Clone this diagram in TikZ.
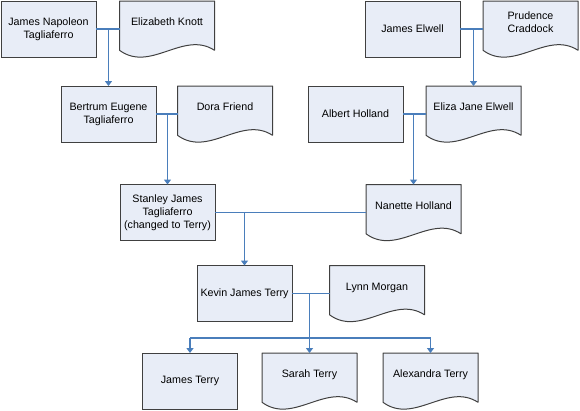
\documentclass[tikz,border=0pt]{standalone}
\usepackage{fontspec}
\setmainfont{Liberation Sans}
\usetikzlibrary{arrows.meta}
\usetikzlibrary{backgrounds}
\definecolor{boxfill}{RGB}{232,237,247}
\definecolor{boxline}{RGB}{64,64,64}
\definecolor{linkblue}{RGB}{74,126,187}
\tikzstyle{person} = [draw=boxline, fill=boxfill, line width=1pt, rectangle, minimum width=95pt, minimum height=56pt, inner sep=2pt, outer sep=0pt, align=center]
\tikzstyle{doc} = [rectangle, minimum width=95pt, minimum height=56pt, inner sep=2pt, outer sep=0pt, align=center, text depth=14pt]
\tikzstyle{docline} = [draw=boxline, fill=boxfill, line width=1pt, line join=round]
\tikzstyle{link} = [draw=linkblue, line width=1.3pt]
\tikzstyle{child} = [link, -{Triangle[width=7pt,length=5pt]}]

\begin{document}
\begin{tikzpicture}[x=1pt,y=-1pt,font=\fontsize{10.7}{13}\selectfont]
    \useasboundingbox (0,0) rectangle (580,410);
    % grandparents
    \node [person] (jnt) at (48.5,29) {James Napoleon\\Tagliaferro};
    \node [doc] (ek) at (167,29) {Elizabeth Knott};
    \node [person] (je) at (412.5,29) {James Elwell};
    \node [doc] (pc) at (530.5,29) {Prudence\\Craddock};
    % parents
    \node [person] (bet) at (108.5,114) {Bertrum Eugene\\Tagliaferro};
    \node [doc] (df) at (225,114) {Dora Friend};
    \node [person] (ah) at (355.5,114) {Albert Holland};
    \node [doc] (eje) at (473.5,114) {Eliza Jane Elwell};
    \node [person] (sjt) at (167.5,212.5) {Stanley James\\Tagliaferro\\(changed to Terry)};
    \node [doc] (nh) at (413.5,212.5) {Nanette Holland};
    \node [person] (kjt) at (244.5,293.5) {Kevin James Terry};
    \node [doc] (lm) at (377,293.5) {Lynn Morgan};
    % children
    \node [person] (jt) at (190,381) {James Terry};
    \node [doc] (st) at (309.5,381) {Sarah Terry};
    \node [doc] (at) at (430.5,381) {Alexandra Terry};

    \begin{scope}[on background layer]
    \foreach \d in {ek,pc,df,eje,nh,lm,st,at}
        \path [docline] (\d.north west) -- (\d.north east) -- ([yshift=6.7pt]\d.south east)
            .. controls ([xshift=-31pt,yshift=27pt]\d.south east) and ([xshift=31pt,yshift=-16pt]\d.south west)
            .. ([yshift=6.7pt]\d.south west) -- cycle;
    \end{scope}

    \draw [link] (jnt.east) -- (ek.west);
    \draw [child] (bet.north |- jnt.east) -- (bet.north);
    \draw [link] (je.east) -- (pc.west);
    \draw [child] (eje.north |- je.east) -- (eje.north);
    \draw [link] (bet.east) -- (df.west);
    \draw [child] (sjt.north |- bet.east) -- (sjt.north);
    \draw [link] (ah.east) -- (eje.west);
    \draw [child] (nh.north |- ah.east) -- (nh.north);
    \draw [link] (sjt.east) -- (nh.west);
    \draw [child] (kjt.north |- sjt.east) -- (kjt.north);
    \draw [link] (kjt.east) -- (lm.west);
    \draw [child] (st.north |- kjt.east) -- (st.north);

    \coordinate (bus) at (309.5,338);
    \draw [link] (bus -| jt.north) -- (bus -| at.north);
    \draw [child] (bus -| jt.north) -- (jt.north);
    \draw [child] (bus -| at.north) -- (at.north);
\end{tikzpicture}
\end{document}
